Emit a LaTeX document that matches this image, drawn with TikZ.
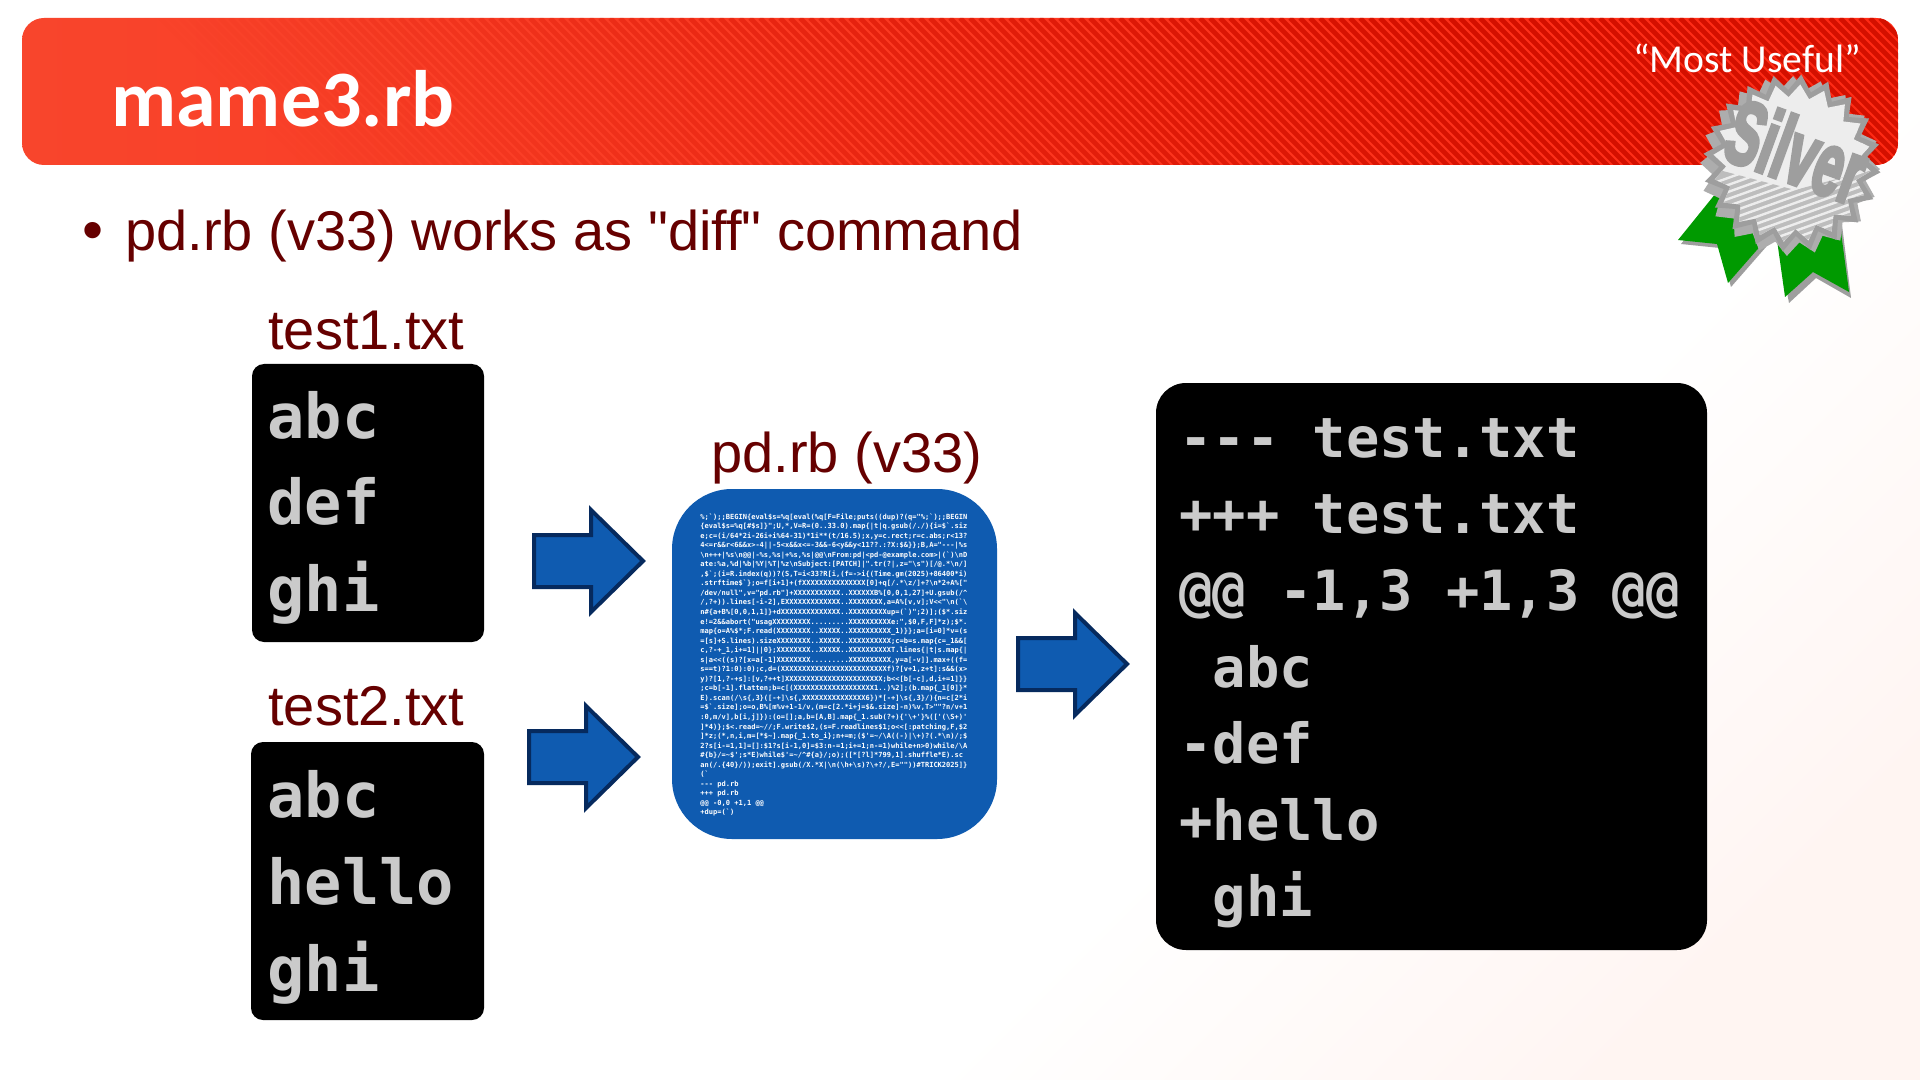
\documentclass[tikz,border=0pt]{standalone}
\usepackage{fontspec}
\setmainfont{Liberation Sans}
\newfontfamily\plainfam{Liberation Sans}
\newfontfamily\carlito{Carlito}
\newfontfamily\monofam{DejaVu Sans Mono}
\newfontfamily\silverfont{Liberation Sans}[UprightFont=* Bold,FakeBold=5]
\def\bs{\textbackslash{}}
\def\tl{\textasciitilde{}}
\def\ct{\textasciicircum{}}
\definecolor{bodyred}{HTML}{660000}
\definecolor{termgray}{HTML}{CACACA}
\definecolor{panelblue}{HTML}{0F5BB0}
\definecolor{arrowedge}{HTML}{062A5E}
\definecolor{medalgray}{HTML}{9E9E9E}
\definecolor{ribbon}{HTML}{009A00}
\definecolor{bannerL}{HTML}{F8452C}
\definecolor{bannerM}{HTML}{F33A1E}
\definecolor{bannerR}{HTML}{FF2A14}
\definecolor{bannerS}{HTML}{D41000}
\definecolor{pagepink}{HTML}{FFF5F2}
\pgfdeclareverticalshading{pagefade}{100bp}{color(0bp)=(pagepink); color(22bp)=(pagepink); color(38bp)=(white); color(100bp)=(white)}
\tikzset{
  term/.style={fill=black,rounded corners=6pt,minimum width=#1,inner sep=0pt},
  termtext/.style={anchor=base west,inner sep=0pt,text=termgray,font=\monofam\bfseries\fontsize{31}{31}\selectfont},
  difftext/.style={anchor=base west,inner sep=0pt,text=termgray,font=\monofam\bfseries\fontsize{27.7}{28}\selectfont},
  label/.style={anchor=base west,inner sep=0pt,text=bodyred,font=\fontsize{28}{30}\selectfont},
  pics/blockarrow/.style={code={
    \draw[fill=panelblue,draw=arrowedge,line width=2pt,line join=miter]
      (0,-26)--(57,-26)--(57,-51)--(109,0)--(57,51)--(57,26)--(0,26)--cycle;}},
}
\begin{document}
\begin{tikzpicture}[x=0.5pt,y=-0.5pt]
\useasboundingbox (0,0) rectangle (1920,1080);
\shade[shading=pagefade,shading angle=45] (0,0) rectangle (1920,1080);
% banner
\begin{scope}
\clip[rounded corners=11pt] (22,18) rectangle (1898,165);
\shade[left color=bannerL,middle color=bannerM,right color=bannerR] (22,18) rectangle (1898,165);
\foreach \k in {0,10,...,2070}{
  \pgfmathsetmacro{\op}{min(1,max(0,(\k-300)/1300))}
  \draw[color=bannerS,line width=2.4pt,opacity=\op] (\k-150,18) -- (\k,168);
}
\end{scope}
\node[anchor=base west,inner sep=0pt,text=white,font=\carlito\bfseries\fontsize{40}{41}\selectfont] (title) at (111,127) {mame3.rb};
\node[anchor=base west,inner sep=0pt,text=white,font=\carlito\fontsize{19.8}{20}\selectfont] (most) at (1633,73) {“Most Useful”};
% bullet
\node[label,font=\fontsize{30}{32}\selectfont] (bullet) at (82,251) {•};
\node[label,font=\plainfam\fontsize{28}{32}\selectfont] (head) at (125,251) {pd.rb (v33) works as "diff" command};
% medal
\begin{scope}
\fill[medalgray] (1719,197)--(1681,244)--(1720,248)--(1731,287)--(1766,247)--(1783,204)--cycle;
\fill[ribbon] (1716,193)--(1678,240)--(1717,244)--(1728,283)--(1763,243)--(1780,200)--cycle;
\fill[medalgray] (1777,240)--(1789,303)--(1816,278)--(1851,298)--(1842,225)--cycle;
\fill[ribbon] (1777,240)--(1785,297)--(1813,272)--(1849,292)--(1840,225)--cycle;
\fill[medalgray!85] plot[samples=41,domain=0:40] ({1790+(mod(\x,2)==0?90:77)*cos(\x*9+2)},{166+(mod(\x,2)==0?90:77)*sin(\x*9+2)}) -- cycle;
\fill[medalgray] plot[samples=41,domain=0:40] ({1792+(mod(\x,2)==0?89:73)*cos(\x*9+6)},{163+(mod(\x,2)==0?89:73)*sin(\x*9+6)}) -- cycle;
\begin{scope}
\clip plot[samples=41,domain=0:40] ({1792+(mod(\x,2)==0?79:66)*cos(\x*9+6)},{163+(mod(\x,2)==0?79:66)*sin(\x*9+6)}) -- cycle;
\fill[white!93!black] (1680,70) rectangle (1900,270);
\fill[gray!52] (1700,165)--(1795,190)--(1890,165)--(1890,270)--(1700,270)--cycle;
\foreach \s in {0,7,...,120}{
  \draw[white!93!black,line width=1.2pt] (1700,188+\s)--(1890,120+\s);
}
\end{scope}
\node[rotate=-20,inner sep=0pt,text=medalgray,font=\silverfont\fontsize{36}{36}\selectfont,xscale=.72,yscale=1.25] (silver) at (1797,151) {Silver};
\end{scope}
% file 1
\node[label] (t1) at (268,350) {test1.txt};
\node[term=116pt,minimum height=139pt] (box1) at (368,503) {};
\node[termtext] (a1) at (267,438) {abc};
\node[termtext] (a2) at (267,524) {def};
\node[termtext] (a3) at (267,611) {ghi};
% file 2
\node[label] (t2) at (268,725) {test2.txt};
\node[term=116.5pt,minimum height=139pt] (box2) at (367.5,881) {};
\node[termtext] (b1) at (267,817) {abc};
\node[termtext] (b2) at (267,904) {hello};
\node[termtext] (b3) at (267,991) {ghi};
% arrows
\pic at (534,561) {blockarrow};
\pic at (529,757) {blockarrow};
\pic at (1018,664) {blockarrow};
% tool
\node[label] (t3) at (711,472) {pd.rb (v33)};
\node[fill=panelblue,rounded corners=30pt,minimum width=162.5pt,minimum height=175pt,inner sep=0pt] (tool) at (834.5,664) {};
\node[anchor=north west,inner sep=0pt,text=white,align=left,font=\monofam\bfseries\fontsize{3.52}{4.77}\selectfont] (code) at (700,513) {%
\%;`);;BEGIN\{eval\$s=\%q[eval(\%q[F=File;puts((dup)?(q="\%;`);;BEGIN\\
\{eval\$s=\%q[\#\$s]\}";U,*,V=R=(0..33.0).map\{|t|q.gsub(/./)\{i=\$`.siz\\
e;c=(i/64*2i-26i+i\%64-31)*1i**(t/16.5);x,y=c.rect;r=c.abs;r<13?\\
4<=r\&\&r<6\&\&x>-4||-5<x\&\&x<=-3\&\&-6<y\&\&y<11??.:?X:\$\&\}\};B,A="---|\%s\\
\bs n+++|\%s\bs n@@|-\%s,\%s|+\%s,\%s|@@\bs nFrom:pd|<pd-@example.com>|(`)\bs nD\\
ate:\%a,\%d|\%b|\%Y|\%T|\%z\bs nSubject:[PATCH]|".tr(?|,z="\bs s")[/@.*\bs n/]\\
,\$`;(i=R.index(q))?(S,T=i<33?R[i,(f=->i\{(Time.gm(2025)+86400*i)\\
.strftime\$`\};o=f[i+1]+(fXXXXXXXXXXXXXXX[0]+q[/.*\bs z/]+?\bs n*2+A\%["\\
/dev/null",v="pd.rb"]+XXXXXXXXXXX..XXXXXXB\%[0,0,1,27]+U.gsub(/\ct\\
/,?+)).lines[-i-2],EXXXXXXXXXXXXX..XXXXXXXX,a=A\%[v,v];V<<"\bs n(`\bs\\
n\#\{a+B\%[0,0,1,1]\}+dXXXXXXXXXXXXXX..XXXXXXXXXup=(`)";2)];(\$*.siz\\
e!=2\&\&abort("usagXXXXXXXXX.........XXXXXXXXXXe:",\$0,F,F]*z);\$*.\\
map\{o=A\%\$*;F.read(XXXXXXXX..XXXXX..XXXXXXXXXX\_1)\}\};a=[i=0]*v=(s\\
=[s]+S.lines).sizeXXXXXXXX..XXXXX..XXXXXXXXXX;c=b=s.map\{c=\_1\&\&[\\
c,?-+\_1,i+=1]||0\};XXXXXXXX..XXXXX..XXXXXXXXXXT.lines\{|t|s.map\{|\\
s|a<<((s)?[x=a[-1]XXXXXXXX.........XXXXXXXXXX,y=a[-v]].max+((f=\\
s==t)?1:0):0);c,d=(XXXXXXXXXXXXXXXXXXXXXXXXXf)?[v+1,z+t]:s\&\&(x>\\
y)?[1,?-+s]:[v,?++t]XXXXXXXXXXXXXXXXXXXXXXX;b<<[b[-c],d,i+=1]\}\}\\
;c=b[-1].flatten;b=c[(XXXXXXXXXXXXXXXXXXX1..)\%2];(b.map\{\_1[0]\}*\\
E).scan(/\bs s\{,3\}([-+]\bs s\{,XXXXXXXXXXXXXXX6\})*[-+]\bs s\{,3\}/)\{n=c[2*i\\
=\$`.size];o=o,B\%[m\%v+1-1/v,(m=c[2.*i+j=\$\&.size]-n)\%v,T>""?n/v+1\\
:0,m/v],b[i,j]\}):(o=[];a,b=[A,B].map\{\_1.sub(?+)\{'\bs+'\}\%(['(\bs S+)'\\
]*4)\};\$<.read=\tl//;F.write\$2,(s=F.readlines\$1;o<<[:patching,F,\$2\\
]*z;(*,n,i,m=[*\$\tl].map\{\_1.to\_i\};n+=m;(\$'=\tl/\bs A((-)|\bs+)?(.*\bs n)/;\$\\
2?s[i-=1,1]=[]:\$1?s[i-1,0]=\$3:n-=1;i+=1;n-=1)while+n>0)while/\bs A\\
\#\{b\}/=\tl\$';s*E)while\$'=\tl/\ct\#\{a\}/;o);([*[?l]*799,1].shuffle*E).sc\\
an(/.\{40\}/));exit].gsub(/X.*X|\bs n(\bs h+\bs s)?\bs+?/,E=""))\#TRICK2025]\}\\
(`\\
--- pd.rb\\
+++ pd.rb\\
@@ -0,0 +1,1 @@\\
+dup=(`)};
\node[term=275.5pt,minimum height=283.5pt,rounded corners=15pt] (diffbox) at (1431.5,666.5) {};
\node[difftext] (d1) at (1179,457) {--- test.txt};
\node[difftext] (d2) at (1179,533) {+++ test.txt};
\node[difftext] (d3) at (1179,610) {@@ -1,3 +1,3 @@};
\node[difftext] (d4) at (1179,687) {{} abc};
\node[difftext] (d5) at (1179,763) {-def};
\node[difftext] (d6) at (1179,840) {+hello};
\node[difftext] (d7) at (1179,916) {{} ghi};
\end{tikzpicture}
\end{document}
